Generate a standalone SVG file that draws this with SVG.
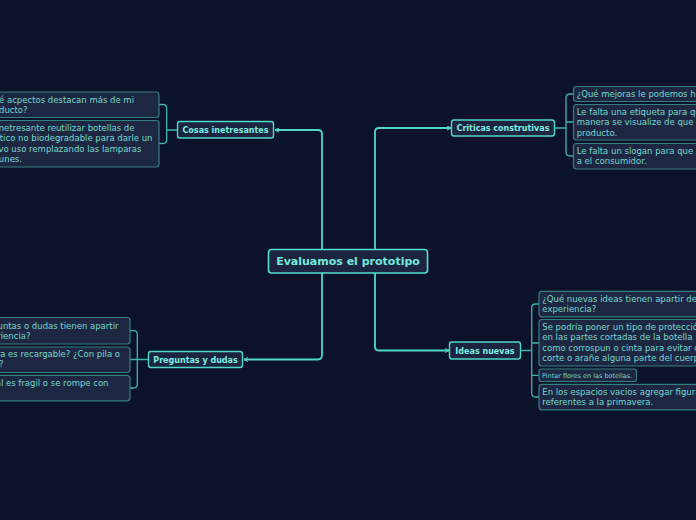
<svg xmlns="http://www.w3.org/2000/svg" width="696" height="520" viewBox="0 0 696 520">
<defs>
<marker id="arr" viewBox="0 0 10 10" refX="9" refY="5" markerWidth="5" markerHeight="5" orient="auto-start-reverse" markerUnits="userSpaceOnUse">
<path d="M1,1 L9,5 L1,9" fill="none" stroke="#4fd8c8" stroke-width="2"/>
</marker>
<style>
.bg{fill:#0b1229}
.conn{fill:none;stroke:#4fd8c8;stroke-width:1.8}
.br{fill:none;stroke:#3fb5ab;stroke-width:1.3}
.main rect{fill:#1c2440;stroke:#52e0d0;stroke-width:1.6}
.main text{font-family:"DejaVu Sans",Verdana,sans-serif;font-weight:bold;font-size:11px;fill:#72eadb;text-anchor:middle}
.sub rect{fill:#1c2440;stroke:#4fd8c8;stroke-width:1.4}
.sub text{font-family:"DejaVu Sans",Verdana,sans-serif;font-weight:bold;font-size:8px;fill:#7eefe0;text-anchor:middle}
.leaf rect{fill:#1e2742;stroke:#347f80;stroke-width:1.2}
.leaf text{font-family:"DejaVu Sans",Verdana,sans-serif;font-size:8.5px;fill:#74d8cf}
.leaf text.r{text-anchor:end}
.leaf text.s{font-size:6.5px}
</style>
</defs>
<rect class="bg" x="0" y="0" width="696" height="520"/>

<g id="connectors">
<path class="conn" d="M322,249 V134 Q322,130 318,130 H275" marker-end="url(#arr)"/>
<path class="conn" d="M322,273 V355 Q322,359.5 318,359.5 H244" marker-end="url(#arr)"/>
<path class="conn" d="M375,249 V132 Q375,128 379,128 H451" marker-end="url(#arr)"/>
<path class="conn" d="M375,273 V346.5 Q375,350.5 379,350.5 H449" marker-end="url(#arr)"/>
<path class="br" d="M159,104.5 H163 Q166.7,104.5 166.7,108.5 V139.5 Q166.7,143.5 163,143.5 H159 M166.7,130 H178"/>
<path class="br" d="M130,330.7 H133.5 Q137.3,330.7 137.3,334.7 V384 Q137.3,388 133.5,388 H130 M130,359.5 H148"/>
<path class="br" d="M573,94 H570 Q566,94 566,98 V152 Q566,156 570,156 H573 M566,122 H573 M554,128 H566"/>
<path class="br" d="M539,304 H535.7 Q531.7,304 531.7,308 V393 Q531.7,397 535.7,397 H539 M531.7,343 H539 M531.7,375.3 H539 M520.5,350.5 H531.7"/>
</g>

<g id="central" class="main">
<rect x="268.5" y="249.5" width="159" height="23.5" rx="3"/>
<text x="348" y="265">Evaluamos el prototipo</text>
</g>

<g id="cosas" class="sub">
<rect x="177.5" y="121.5" width="96" height="16.5" rx="2.5"/>
<text x="225.5" y="132.8">Cosas inetresantes</text>
</g>
<g id="preguntas" class="sub">
<rect x="148.5" y="351.5" width="94" height="16" rx="2.5"/>
<text x="195.5" y="362.5">Preguntas y dudas</text>
</g>
<g id="criticas" class="sub">
<rect x="451.5" y="120" width="103" height="16" rx="2.5"/>
<text x="503" y="131">Criticas construtivas</text>
</g>
<g id="ideas" class="sub">
<rect x="449.5" y="342" width="71" height="17" rx="2.5"/>
<text x="485" y="353.5">Ideas nuevas</text>
</g>

<g id="cosas-1" class="leaf">
<rect x="-60" y="92" width="219" height="25.5" rx="3"/>
<text class="r" x="134" y="102.5">¿Qué acpectos destacan más de mi</text>
<text class="r" x="27.5" y="112.8">producto?</text>
</g>
<g id="cosas-2" class="leaf">
<rect x="-60" y="120.5" width="219" height="46.5" rx="3"/>
<text class="r" x="134.5" y="131">Es inetresante reutilizar botellas de</text>
<text class="r" x="152.5" y="141.3">plástico no biodegradable para darle un</text>
<text class="r" x="141.5" y="151.6">nuevo uso remplazando las lamparas</text>
<text class="r" x="22" y="161.9">comunes.</text>
</g>

<g id="preguntas-1" class="leaf">
<rect x="-80" y="317.5" width="210" height="26.5" rx="3"/>
<text class="r" x="118.5" y="328.5">¿Qué preguntas o dudas tienen apartir</text>
<text class="r" x="30.5" y="339">de esta experiencia?</text>
</g>
<g id="preguntas-2" class="leaf">
<rect x="-80" y="347" width="210" height="25.5" rx="3"/>
<text class="r" x="120" y="357">¿La lámpara es recargable? ¿Con pila o</text>
<text class="r" x="3.5" y="367.3">cable?</text>
</g>
<g id="preguntas-3" class="leaf">
<rect x="-80" y="375.3" width="210" height="25.5" rx="3"/>
<text class="r" x="108.5" y="385.5">¿El material es fragil o se rompe con</text>
<text class="r" x="-5" y="395.8">facilidad?</text>
</g>

<g id="criticas-1" class="leaf">
<rect x="573.5" y="86.5" width="200" height="15" rx="3"/>
<text x="576.7" y="97">¿Qué mejoras le podemos hacer a nuestro producto?</text>
</g>
<g id="criticas-2" class="leaf">
<rect x="573.5" y="104.5" width="200" height="35.5" rx="3"/>
<text x="576.7" y="115">Le falta una etiqueta para que de alguna</text>
<text x="576.7" y="125.3">manera se visualize de que es el</text>
<text x="576.7" y="135.6">producto.</text>
</g>
<g id="criticas-3" class="leaf">
<rect x="573.5" y="143.5" width="200" height="25.5" rx="3"/>
<text x="576.7" y="153.7">Le falta un slogan para que llame la atención</text>
<text x="576.7" y="164">a el consumidor.</text>
</g>

<g id="ideas-1" class="leaf">
<rect x="539" y="291.3" width="200" height="25.5" rx="3"/>
<text x="542.3" y="301.7">¿Qué nuevas ideas tienen apartir de la</text>
<text x="542.3" y="312">experiencia?</text>
</g>
<g id="ideas-2" class="leaf">
<rect x="539" y="319.5" width="200" height="46.5" rx="3"/>
<text x="542.3" y="330">Se podría poner un tipo de protección</text>
<text x="542.3" y="340.3">en las partes cortadas de la botella</text>
<text x="542.3" y="350.6">como corrospun o cinta para evitar que</text>
<text x="542.3" y="360.9">corte o arañe alguna parte del cuerpo.</text>
</g>
<g id="ideas-3" class="leaf">
<rect x="539" y="369" width="97.5" height="12.5" rx="2.5"/>
<text class="s" x="542" y="378">Pintar flores en las botellas.</text>
</g>
<g id="ideas-4" class="leaf">
<rect x="539" y="384.3" width="200" height="25.5" rx="3"/>
<text x="542.3" y="394.8">En los espacios vacios agregar figuras</text>
<text x="542.3" y="405.1">referentes a la primavera.</text>
</g>
</svg>
